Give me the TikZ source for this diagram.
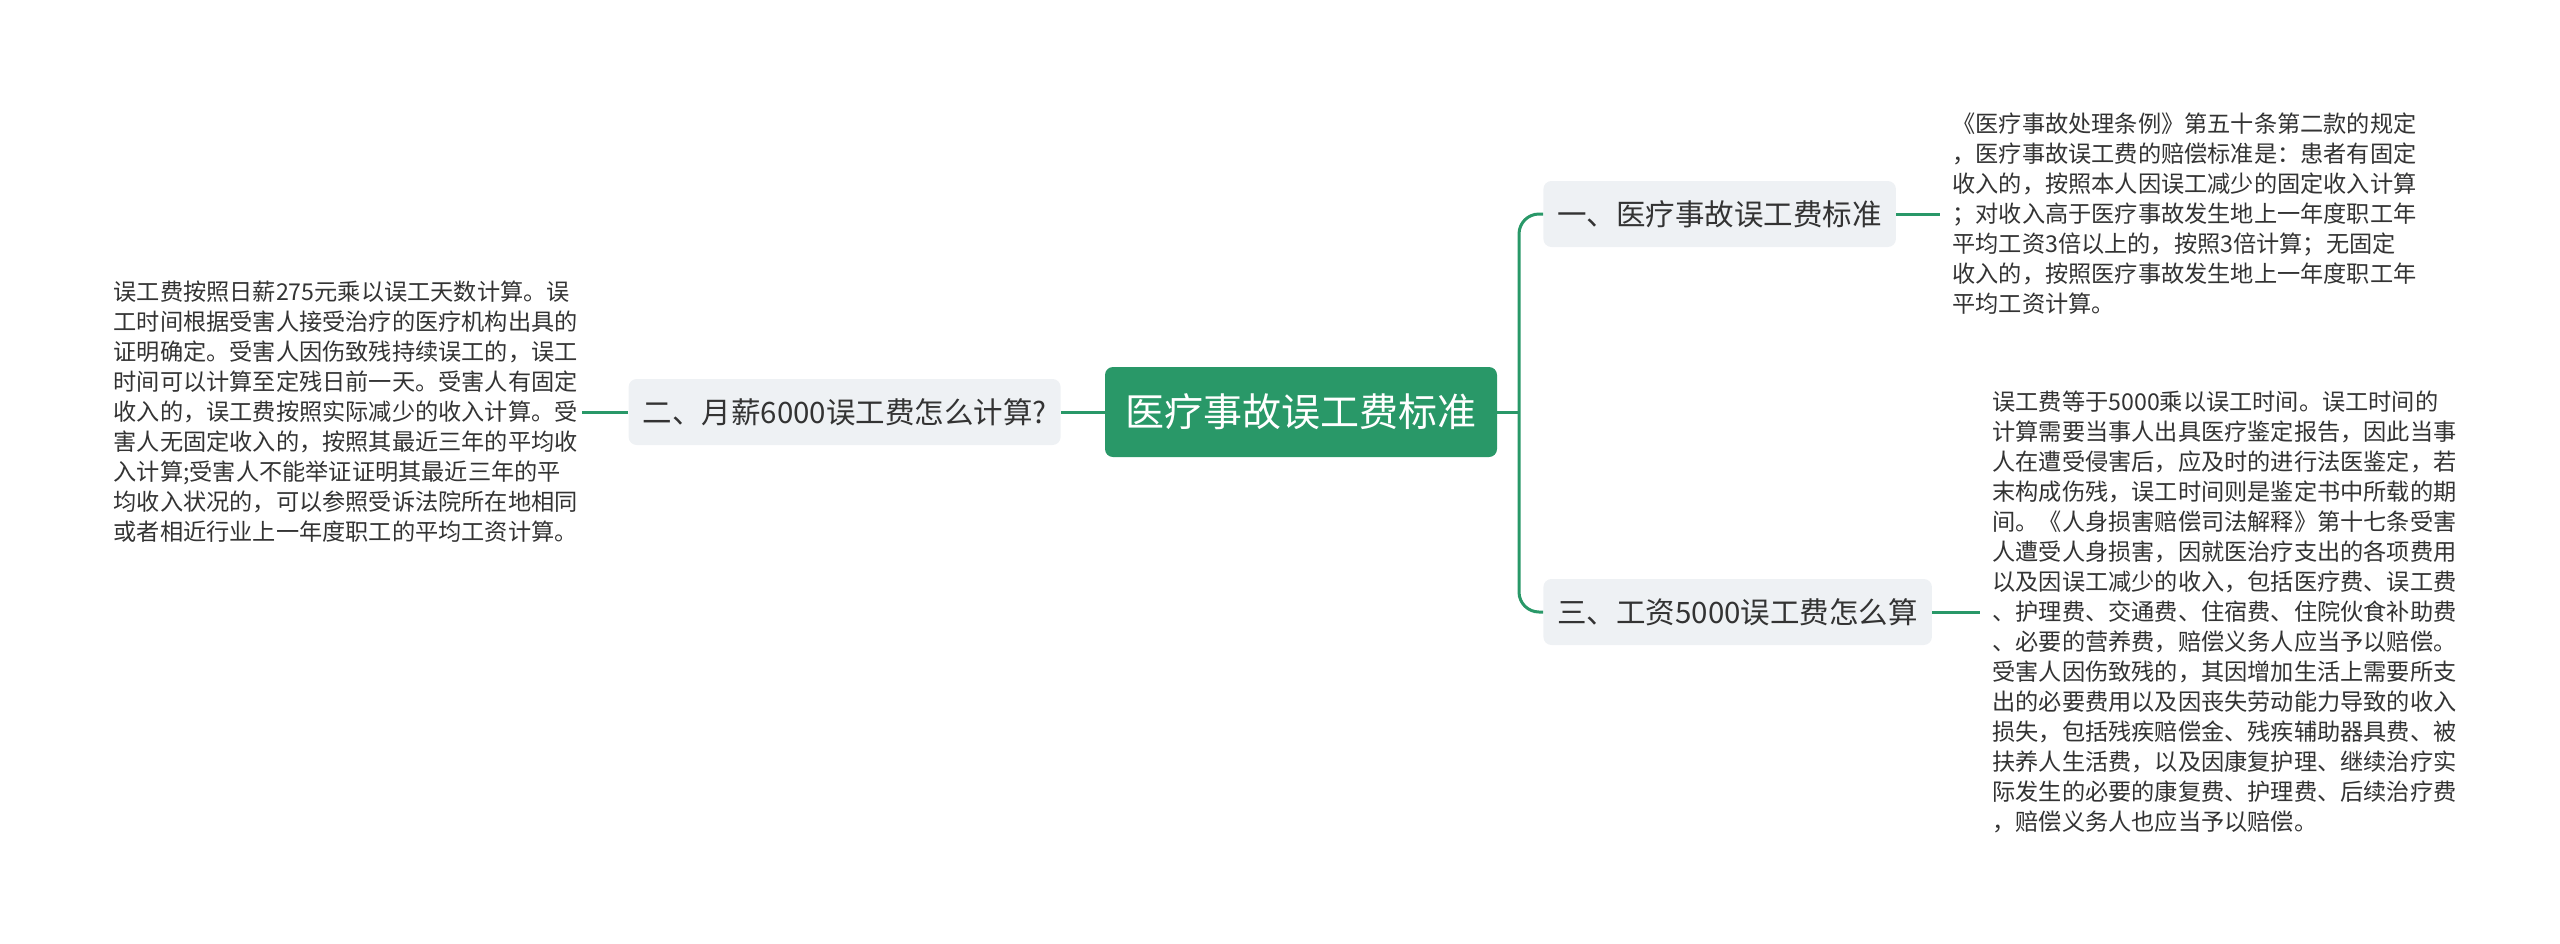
\documentclass[tikz,border=0pt]{standalone}
\usepackage{fontspec}
\setmainfont{Noto Sans CJK SC}
\definecolor{mapgreen}{RGB}{41,152,104}
\definecolor{topicgray}{RGB}{238,241,244}
\definecolor{notegray}{RGB}{51,51,51}
\tikzset{
    rootbox/.style={fill=mapgreen, text=white, rounded corners=4pt, minimum width=196pt, minimum height=45pt, inner xsep=0pt, font=\fontsize{19.5}{23}\selectfont},
    topicbox/.style={fill=topicgray, text=notegray, rounded corners=4pt, minimum height=33pt, inner xsep=7pt, font=\fontsize{14.75}{18}\selectfont},
    notetext/.style={text=notegray, align=left, inner ysep=0pt, inner xsep=6pt, font=\fontsize{11.6}{15}\selectfont},
    branch/.style={draw=mapgreen, line width=1.5pt},
}
\begin{document}
\begin{tikzpicture}[x=0.5pt, y=-0.5pt]
    \useasboundingbox (0,0) rectangle (2560,943);
    % 中心主题
    \node[rootbox] (root) at (1301,412) {医疗事故误工费标准};
    % 分支主题
    \node[topicbox, anchor=west] (t1) at (1543,214) {一、医疗事故误工费标准};
    \node[topicbox, anchor=east] (t2) at (1061,412) {二、月薪6000误工费怎么计算?};
    \node[topicbox, anchor=west] (t3) at (1543,612) {三、工资5000误工费怎么算};
    \coordinate (spine) at (1519,412);
    % 说明文字
    \node[notetext, anchor=west] (d1) at (1940,214) {《医疗事故处理条例》第五十条第二款的规定\\，医疗事故误工费的赔偿标准是：患者有固定\\收入的，按照本人因误工减少的固定收入计算\\；对收入高于医疗事故发生地上一年度职工年\\平均工资3倍以上的，按照3倍计算；无固定\\收入的，按照医疗事故发生地上一年度职工年\\平均工资计算。};
    \node[notetext, anchor=east, inner xsep=2pt] (d2) at (582,412) {误工费按照日薪275元乘以误工天数计算。误\\工时间根据受害人接受治疗的医疗机构出具的\\证明确定。受害人因伤致残持续误工的，误工\\时间可以计算至定残日前一天。受害人有固定\\收入的，误工费按照实际减少的收入计算。受\\害人无固定收入的，按照其最近三年的平均收\\入计算;受害人不能举证证明其最近三年的平\\均收入状况的，可以参照受诉法院所在地相同\\或者相近行业上一年度职工的平均工资计算。};
    \node[notetext, anchor=west] (d3) at (1980,612) {误工费等于5000乘以误工时间。误工时间的\\计算需要当事人出具医疗鉴定报告，因此当事\\人在遭受侵害后，应及时的进行法医鉴定，若\\末构成伤残，误工时间则是鉴定书中所载的期\\间。《人身损害赔偿司法解释》第十七条受害\\人遭受人身损害，因就医治疗支出的各项费用\\以及因误工减少的收入，包括医疗费、误工费\\、护理费、交通费、住宿费、住院伙食补助费\\、必要的营养费，赔偿义务人应当予以赔偿。\\受害人因伤致残的，其因增加生活上需要所支\\出的必要费用以及因丧失劳动能力导致的收入\\损失，包括残疾赔偿金、残疾辅助器具费、被\\扶养人生活费，以及因康复护理、继续治疗实\\际发生的必要的康复费、护理费、后续治疗费\\，赔偿义务人也应当予以赔偿。};
    % 连线
    \draw[branch] (root.west) -- (t2.east);
    \draw[branch] (root.east) -- (spine);
    \draw[branch, rounded corners=10pt] (t1.west) -| (spine) |- (t3.west);
    \draw[branch] (t1.east) -- (d1.west);
    \draw[branch] (t2.west) -- (d2.east);
    \draw[branch] (t3.east) -- (d3.west);
\end{tikzpicture}
\end{document}
